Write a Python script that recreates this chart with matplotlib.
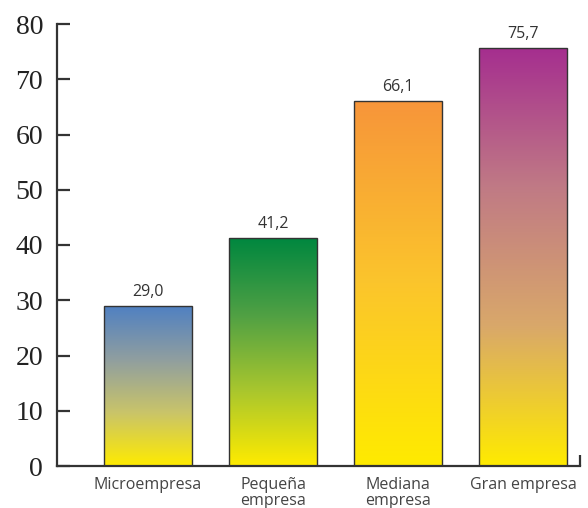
import numpy as np
import matplotlib
matplotlib.use("Agg")
import matplotlib.pyplot as plt
from matplotlib.colors import LinearSegmentedColormap
from matplotlib.patches import Rectangle

categories = ["Microempresa", "Pequeña\nempresa", "Mediana\nempresa", "Gran empresa"]
values = [29.0, 41.2, 66.1, 75.7]
value_labels = ["29,0", "41,2", "66,1", "75,7"]
yticks = [0, 10, 20, 30, 40, 50, 60, 70, 80]

gradients = [
    ["#FFEB00", "#C9C46A", "#8F9EA0", "#4F80C2"],
    ["#FFEB00", "#A8C62E", "#4FA044", "#00873F"],
    ["#FFEB00", "#FBC52C", "#F7953A"],
    ["#FFEB00", "#D9A86A", "#C07A85", "#A52E8F"],
]

fig = plt.figure(figsize=(5.88, 5.08), dpi=100)
ax = fig.add_axes([57/588, 42/508, (580-57)/588, (466-24)/508])

x = np.arange(len(values))
width = 0.70
xmin, xmax = -0.728, 3.456
ax.set_xlim(xmin, xmax)
ax.set_ylim(0, 80)

bars = ax.bar(x, values, width=width, color="none", edgecolor="#333333", linewidth=1.0, zorder=3)
for b, cols in zip(bars, gradients):
    cmap = LinearSegmentedColormap.from_list("g", cols)
    grad = np.linspace(0, 1, 256).reshape(-1, 1)
    x0, y0 = b.get_x(), b.get_y()
    w, h = b.get_width(), b.get_height()
    im = ax.imshow(grad, cmap=cmap, origin="lower", aspect="auto",
                   extent=[x0, x0 + w, y0, y0 + h], zorder=2)
    im.set_clip_path(Rectangle((x0, y0), w, h, transform=ax.transData))

ax.set_xlim(xmin, xmax)
ax.set_ylim(0, 80)

for xi, v, lab in zip(x, values, value_labels):
    ax.text(xi, v + 1.1, lab, ha="center", va="bottom", fontsize=11.5,
            color="#333333", family="Open Sans")

for s in ["top", "right"]:
    ax.spines[s].set_visible(False)
for s in ["left", "bottom"]:
    ax.spines[s].set_linewidth(1.6)
    ax.spines[s].set_color("#333333")

ax.set_yticks(yticks)
ax.set_yticklabels([str(t) for t in yticks], family="Liberation Serif", fontsize=20, color="#222222")
ax.tick_params(axis="y", direction="in", length=9, width=1.6, color="#333333", pad=10)

ax.set_xticks(x)
ax.set_xticklabels(categories, fontsize=11.5, color="#444444", family="Open Sans", linespacing=1.0)
ax.tick_params(axis="x", which="major", length=0, pad=8)
ax.set_xticks([xmax - 0.004], minor=True)
ax.tick_params(axis="x", which="minor", direction="in", length=8, width=1.6, color="#333333")

fig.savefig("out.png", dpi=100)
